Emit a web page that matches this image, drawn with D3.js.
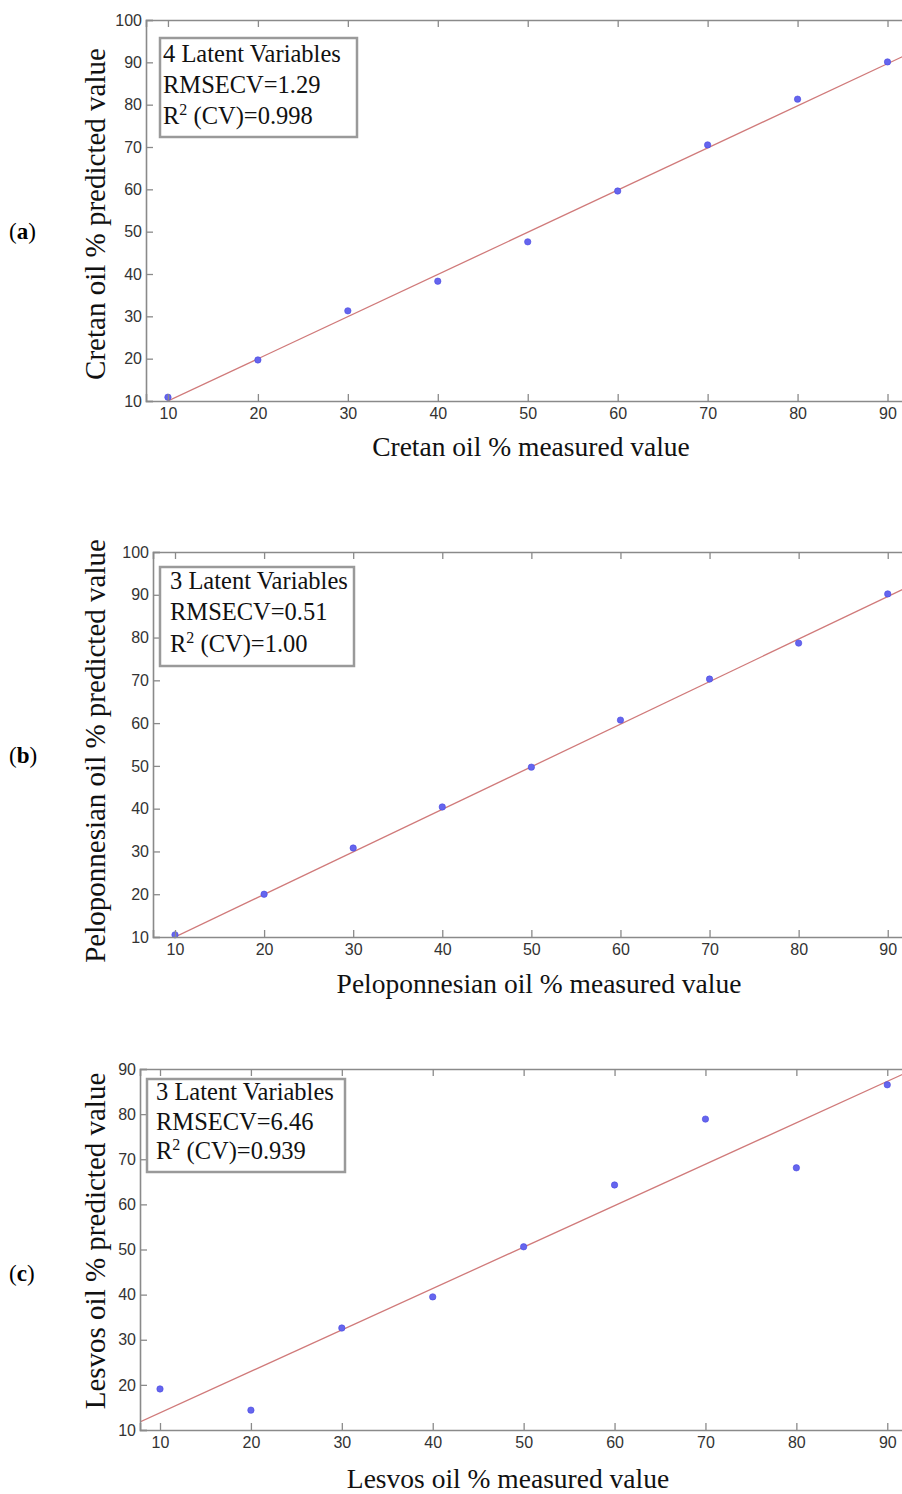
<!DOCTYPE html>
<html><head><meta charset="utf-8">
<script src="https://cdn.jsdelivr.net/npm/d3@7"></script>
<style>
html,body{margin:0;padding:0;background:#fff;}
svg{display:block;}
</style></head>
<body>
<svg id="chart" width="902" height="1494"></svg>
<script>
// ---- data ----
const measured = [10, 20, 30, 40, 50, 60, 70, 80, 90];
const cretanPredicted = [10.9, 19.7, 31.3, 38.3, 47.6, 59.6, 70.5, 81.3, 90.1];
const peloponnesianPredicted = [10.5, 20.0, 30.8, 40.4, 49.7, 60.7, 70.3, 78.7, 90.2];
const lesvosPredicted = [19.1, 14.4, 32.6, 39.5, 50.6, 64.3, 78.9, 68.1, 86.5];
const xTicks = [10, 20, 30, 40, 50, 60, 70, 80, 90];
const yTicksAB = [10, 20, 30, 40, 50, 60, 70, 80, 90, 100];
const yTicksC = [10, 20, 30, 40, 50, 60, 70, 80, 90];
// fit lines: [intercept, slope]
const cretanFit = [0.05, 0.996];
const peloponnesianFit = [0.05, 0.995];
const lesvosFit = [4.64, 0.918];
const panelLabels = ["a", "b", "c"];
const xLabels = ["Cretan oil % measured value", "Peloponnesian oil % measured value", "Lesvos oil % measured value"];
const yLabels = ["Cretan oil % predicted value", "Peloponnesian oil % predicted value", "Lesvos oil % predicted value"];
const legendLV = ["4 Latent Variables", "3 Latent Variables", "3 Latent Variables"];
const legendRMSECV = ["RMSECV=1.29", "RMSECV=0.51", "RMSECV=6.46"];
const legendR2 = ["0.998", "1.00", "0.939"];

// ---- layout (per panel) ----
const layout = [
  {left:146, top:20, bottom:401, xDom:[7.56, 92.5], yDom:[10,100], yTicks:yTicksAB, pred:cretanPredicted, fit:cretanFit,
   box:[160,38,357,137], textX:163, base:[62,93,124], yLabCy:214, xLabCx:531, xLabBase:456, tagY:239},
  {left:153, top:552, bottom:937, xDom:[7.53, 92.5], yDom:[10,100], yTicks:yTicksAB, pred:peloponnesianPredicted, fit:peloponnesianFit,
   box:[160,567,354,666], textX:170, base:[589,620,652], yLabCy:751, xLabCx:539, xLabBase:993, tagY:763},
  {left:140, top:1069, bottom:1430, xDom:[7.8, 92.5], yDom:[10,90], yTicks:yTicksC, pred:lesvosPredicted, fit:lesvosFit,
   box:[147,1079,345,1172], textX:156, base:[1100,1130,1159], yLabCy:1241, xLabCx:508, xLabBase:1488, tagY:1281}
];
const RIGHT = 910;
const axisColor = "#8a8a8a";
const tickText = "#333";
const serif = "'Liberation Serif','Times New Roman',serif";
const sans = "'Liberation Sans',Arial,sans-serif";

const svg = d3.select("#chart");

layout.forEach((L, i) => {
  const g = svg.append("g");
  const x = d3.scaleLinear().domain(L.xDom).range([L.left, RIGHT]);
  const y = d3.scaleLinear().domain(L.yDom).range([L.bottom, L.top]);

  const clipId = "clip" + i;
  svg.append("clipPath").attr("id", clipId).append("rect")
    .attr("x", L.left).attr("y", L.top).attr("width", RIGHT - L.left).attr("height", L.bottom - L.top);

  // fit line
  const [b0, b1] = L.fit;
  g.append("line")
    .attr("clip-path", `url(#${clipId})`)
    .attr("x1", x(L.xDom[0])).attr("y1", y(b0 + b1 * L.xDom[0]))
    .attr("x2", x(L.xDom[1])).attr("y2", y(b0 + b1 * L.xDom[1]))
    .attr("stroke", "#d07a7a").attr("stroke-width", 1.3);

  // points
  g.selectAll("circle.pt").data(measured).enter().append("circle")
    .attr("cx", d => x(d)).attr("cy", (d, j) => y(L.pred[j])).attr("r", 3.2)
    .attr("fill", "#6565ee").attr("stroke", "#4a4ae0").attr("stroke-width", 0.6);

  // axes
  const xAxis = d3.axisBottom(x).tickValues(xTicks).tickSize(-7).tickPadding(7).tickFormat(d3.format("d"));
  const gx = g.append("g").attr("transform", `translate(0,${L.bottom})`).call(xAxis);
  const xTop = d3.axisTop(x).tickValues(xTicks).tickSize(-7).tickFormat("");
  const gxt = g.append("g").attr("transform", `translate(0,${L.top})`).call(xTop);
  const yAxis = d3.axisLeft(y).tickValues(L.yTicks).tickSize(-7).tickPadding(4).tickFormat(d3.format("d"));
  const gy = g.append("g").attr("transform", `translate(${L.left},0)`).call(yAxis);
  [gx, gxt, gy].forEach(a => {
    a.select(".domain").attr("stroke", axisColor).attr("stroke-width", 1.6);
    a.selectAll(".tick line").attr("stroke", axisColor).attr("stroke-width", 1.3);
    a.selectAll(".tick text").attr("fill", tickText).attr("font-family", sans).attr("font-size", 16);
  });

  // legend box
  const [bx0, by0, bx1, by1] = L.box;
  g.append("rect").attr("x", bx0).attr("y", by0).attr("width", bx1 - bx0).attr("height", by1 - by0)
    .attr("fill", "#fff").attr("stroke", "#9a9a9a").attr("stroke-width", 2.5);
  const lt = g.append("g").attr("font-family", serif).attr("font-size", 24.5).attr("fill", "#111");
  lt.append("text").attr("x", L.textX).attr("y", L.base[0]).text(legendLV[i]);
  lt.append("text").attr("x", L.textX).attr("y", L.base[1]).text(legendRMSECV[i]);
  const r2 = lt.append("text").attr("x", L.textX).attr("y", L.base[2]);
  r2.append("tspan").text("R");
  r2.append("tspan").attr("font-size", 16).attr("dy", -9).text("2");
  r2.append("tspan").attr("dy", 9).text(" (CV)=" + legendR2[i]);

  // axis titles
  g.append("text").attr("x", L.xLabCx).attr("y", L.xLabBase).attr("text-anchor", "middle")
    .attr("font-family", serif).attr("font-size", 27.5).attr("fill", "#111").text(xLabels[i]);
  g.append("text").attr("transform", `translate(105,${L.yLabCy}) rotate(-90)`).attr("text-anchor", "middle")
    .attr("font-family", serif).attr("font-size", 29).attr("fill", "#111").text(yLabels[i]);

  // panel tag
  const tag = g.append("text").attr("x", 9).attr("y", L.tagY).attr("font-family", serif).attr("font-size", 23).attr("fill", "#000");
  tag.append("tspan").text("(");
  tag.append("tspan").attr("font-weight", "bold").text(panelLabels[i]);
  tag.append("tspan").text(")");
});
</script>
</body></html>
